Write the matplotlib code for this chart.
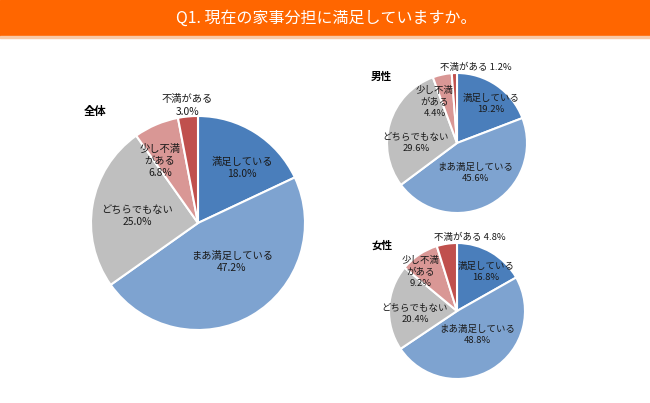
import matplotlib
matplotlib.use("Agg")
import matplotlib.pyplot as plt
from matplotlib.patches import Rectangle

plt.rcParams['font.family'] = ['Noto Sans CJK JP', 'DejaVu Sans']

# DATA
categorias = ["満足している", "まあ満足している", "どちらでもない", "少し不満\nがある", "不満がある"]
total = [18.0, 47.2, 25.0, 6.8, 3.0]
homens = [19.2, 45.6, 29.6, 4.4, 1.2]
mulheres = [16.8, 48.8, 20.4, 9.2, 4.8]
titulos = ["全体", "男性", "女性"]
cores = ["#4A7EBB", "#7EA3D0", "#BFBFBF", "#D99795", "#C0504D"]

W, H = 650, 403

fig = plt.figure(figsize=(6.5, 4.03), dpi=100)
ax = fig.add_axes([0, 0, 1, 1])


def py(y):
    # pixel y (top-down) -> data y
    return H - y


# FAIXA DO TÍTULO
ax.add_patch(Rectangle((0, py(36)), W, 36, color="#FF6600", zorder=1))
ax.add_patch(Rectangle((0, py(37.5)), W, 1.5, color="#F8C9A6", zorder=1))
ax.text(326, py(18), "Q1. 現在の家事分担に満足していますか。", color="white",
        fontsize=11.5, ha="center", va="center", zorder=2)

# PIZZAS: (dados, centro, raio, título, pos. título, pos. rótulos, separador, fonte, espaço)
pizzas = [
    (total, (198, 223), 107, titulos[0], (84, 111),
     [(242, 168), (232, 262), (137, 216), (160, 161), (187.5, 105.5)], "\n", 7.4, 1.3),
    (homens, (457, 143), 70, titulos[1], (371, 77),
     [(491, 104), (475, 173), (416, 143), (435, 102), (476, 67)], " ", 6.8, 1.4),
    (mulheres, (457, 311), 68, titulos[2], (371, 246),
     [(486, 272), (477, 335), (415, 314), (421, 272), (470, 237)], " ", 6.8, 1.4),
]

for dados, centro, raio, titulo, pos_tit, pos_rot, sep, fs, esp in pizzas:
    cx, cy = centro
    ax.pie(dados, colors=cores, startangle=90, counterclock=False,
           center=(cx, py(cy)), radius=raio,
           wedgeprops=dict(edgecolor="white", linewidth=1.5))
    ax.text(pos_tit[0], py(pos_tit[1]), titulo, fontsize=fs + 0.8,
            fontweight="bold", ha="left", va="center")
    for i, (cat, v) in enumerate(zip(categorias, dados)):
        x, y = pos_rot[i]
        if i == 4:
            txt = cat + sep + f"{v:.1f}%"
        else:
            txt = cat + "\n" + f"{v:.1f}%"
        ax.text(x, py(y), txt, fontsize=fs, ha="center", va="center",
                linespacing=esp, color="#1a1a1a")

ax.set_xlim(0, W)
ax.set_ylim(0, H)
ax.set_aspect("equal")
ax.axis("off")

fig.savefig("out.png", dpi=100)
